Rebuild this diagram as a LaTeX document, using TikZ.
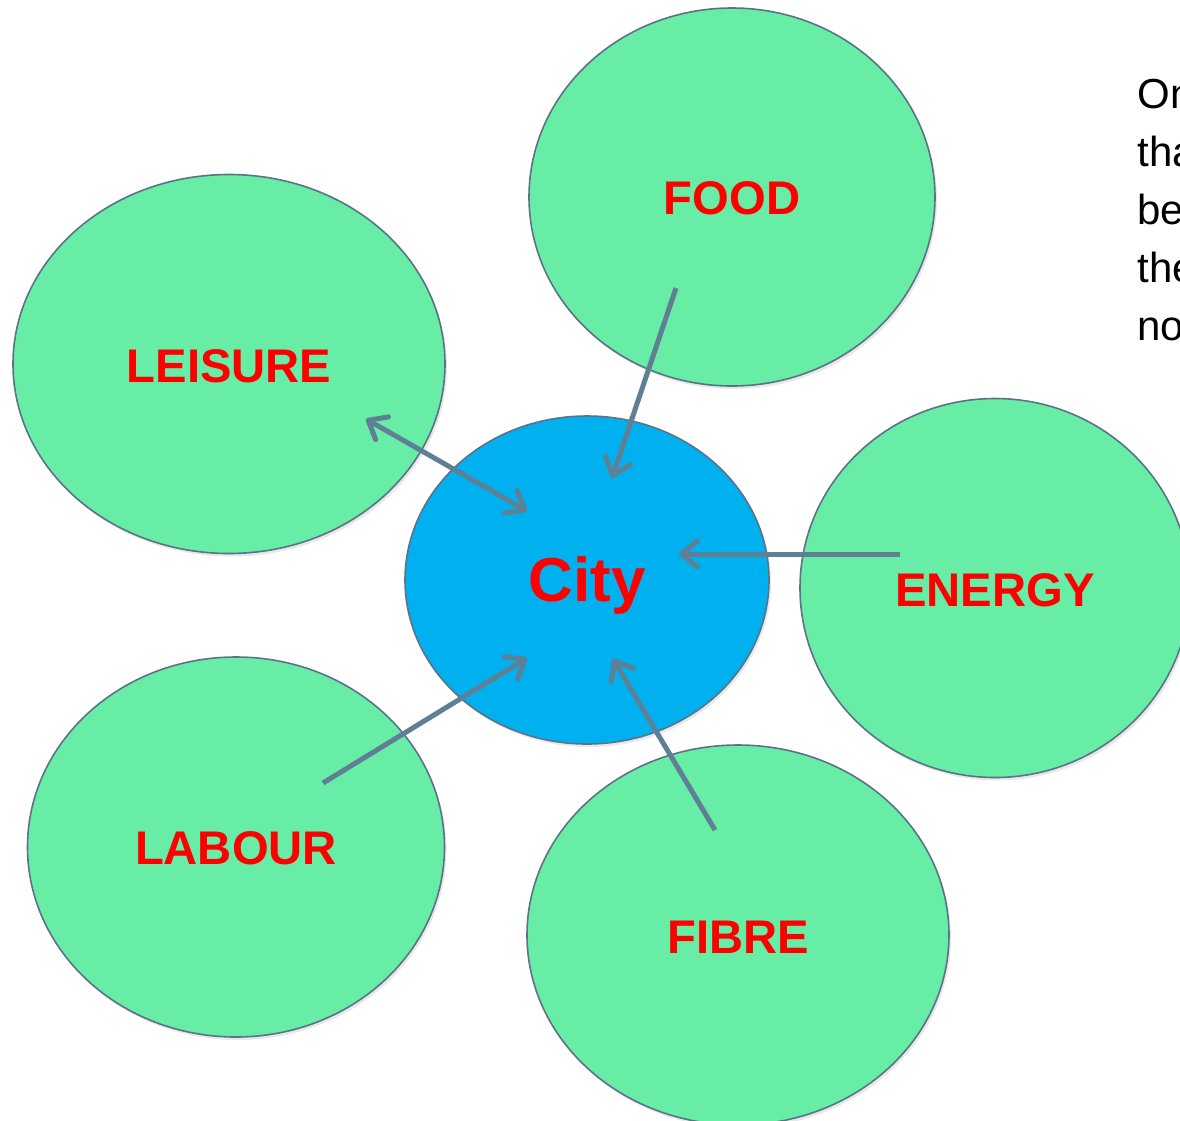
\documentclass[tikz,border=0pt]{standalone}
\usepackage{fontspec}
\setmainfont{Liberation Sans}
\usetikzlibrary{shapes.geometric,arrows.meta,shadows}
\definecolor{bubble}{HTML}{67EDA6}
\definecolor{citycol}{HTML}{00B0EF}
\definecolor{rim}{HTML}{5A7389}
\definecolor{link}{HTML}{5F7F94}
\definecolor{lab}{HTML}{FF0000}
\tikzset{
  bub/.style={ellipse, draw=rim, line width=0.8pt, fill=bubble, inner sep=0pt, outer sep=0pt,
    drop shadow={opacity=0.18, shadow xshift=1pt, shadow yshift=-1.5pt}},
  citybub/.style={bub, fill=citycol},
  lbl/.style={font=\bfseries\fontsize{23.6}{28}\selectfont, text=lab, inner sep=0pt},
  citylbl/.style={font=\bfseries\fontsize{31}{36}\selectfont, text=lab, inner sep=0pt},
  conn/.style={draw=link, line width=2.5pt, -{Straight Barb[round, length=8pt, width=13pt]}},
  conn2/.style={draw=link, line width=2.5pt, {Straight Barb[round, length=8pt, width=13pt]}-{Straight Barb[round, length=8pt, width=13pt]}},
  side/.style={font=\fontsize{21}{29}\selectfont, text=black, inner sep=0pt, anchor=base west}
}
\begin{document}
\begin{tikzpicture}[x={(0.5pt,0)}, y={(0,-0.5pt)}]
\clip (0,0) rectangle (1180,1121);
\fill[white] (0,0) rectangle (1180,1121);
% bubbles
\node[bub, minimum width=203pt, minimum height=189pt] (food) at (732,197) {};
\node[bub, minimum width=216pt, minimum height=189.5pt] (leisure) at (229,364) {};
\node[bub, minimum width=195pt, minimum height=189.5pt] (energy) at (995,588) {};
\node[bub, minimum width=208.5pt, minimum height=190pt] (labour) at (236,847) {};
\node[bub, minimum width=211pt, minimum height=190pt] (fibre) at (738,935) {};
\node[citybub, minimum width=182pt, minimum height=164pt] (city) at (587,580) {};
% labels
\node[lbl] (tfood) at (732,198) {FOOD};
\node[lbl] (tleisure) at (229,366) {LEISURE};
\node[lbl] (tenergy) at (995,590) {ENERGY};
\node[lbl] (tlabour) at (236,848) {LABOUR};
\node[lbl] (tfibre) at (738,937) {FIBRE};
\node[citylbl] (tcity) at (587,585) {City};
% connector end points
\coordinate (fA) at (676,288); \coordinate (fB) at (612,478);
\coordinate (lA) at (366,419); \coordinate (lB) at (527,511);
\coordinate (eA) at (900,554); \coordinate (eB) at (679,554);
\coordinate (bA) at (323,783); \coordinate (bB) at (527,658);
\coordinate (iA) at (715,830); \coordinate (iB) at (613,659);
\draw[conn] (fA) -- (fB);
\draw[conn2] (lA) -- (lB);
\draw[conn] (eA) -- (eB);
\draw[conn] (bA) -- (bB);
\draw[conn] (iA) -- (iB);
% side text (cut by the edge)
\node[side] (s1) at (1137,108) {On};
\node[side] (s2) at (1137,166) {that};
\node[side] (s3) at (1137,224) {be};
\node[side] (s4) at (1137,282) {the};
\node[side] (s5) at (1137,340) {not};
\end{tikzpicture}
\end{document}
